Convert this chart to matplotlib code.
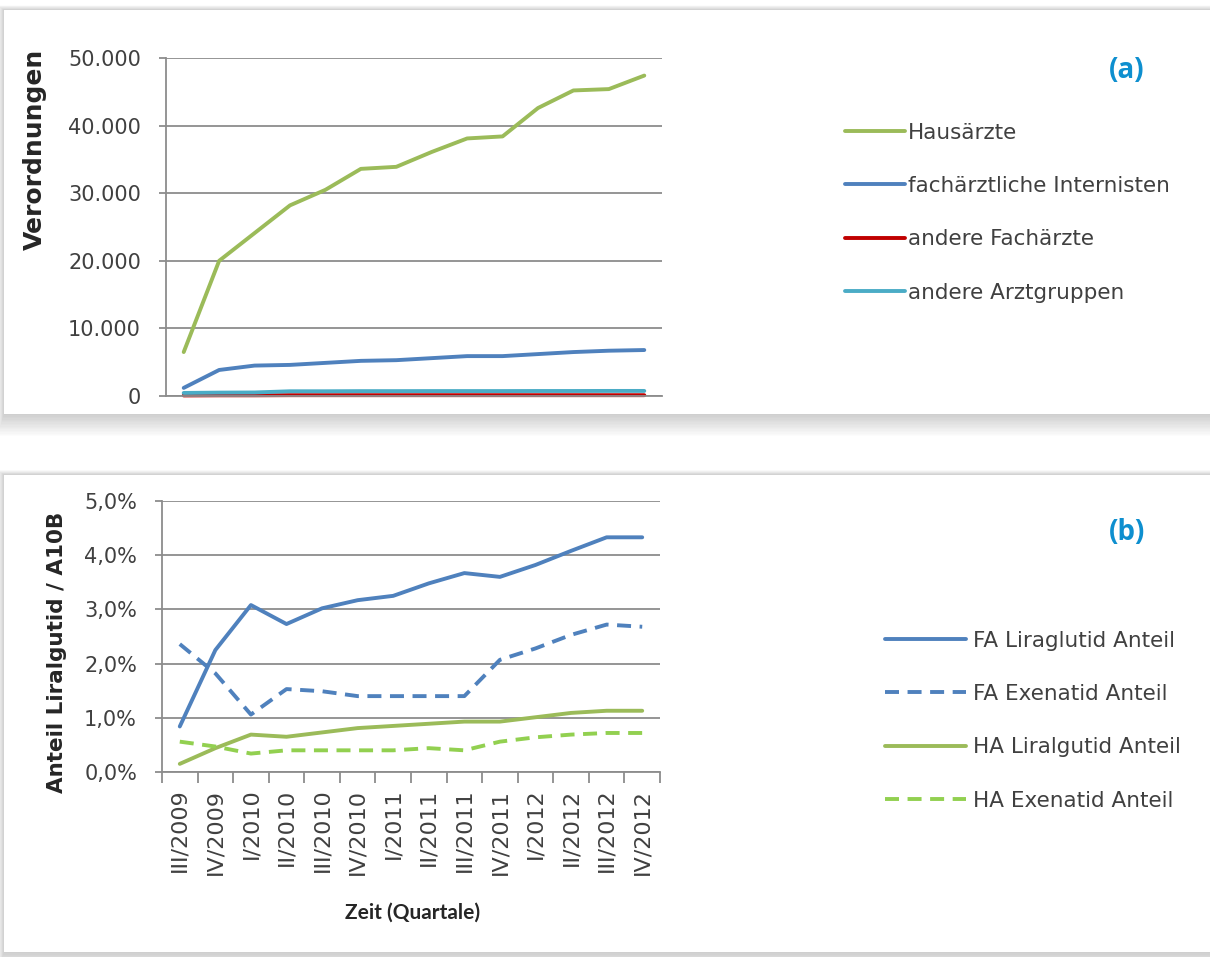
import matplotlib.pyplot as plt
import matplotlib.patches as patches
from matplotlib.ticker import FuncFormatter, FixedLocator
import numpy as np

# Data
quartale = ["III/2009", "IV/2009", "I/2010", "II/2010", "III/2010", "IV/2010",
            "I/2011", "II/2011", "III/2011", "IV/2011", "I/2012", "II/2012",
            "III/2012", "IV/2012"]

hausaerzte = [6500, 20000, 24100, 28200, 30500, 33600, 33900, 36100,
              38100, 38400, 42600, 45200, 45400, 47400]
internisten = [1200, 3850, 4500, 4600, 4900, 5200, 5300, 5600,
               5900, 5900, 6200, 6500, 6700, 6800]
andere_fachaerzte = [80, 100, 100, 120, 120, 120, 120, 120,
                     120, 120, 120, 120, 120, 120]
andere_arztgruppen = [450, 500, 520, 700, 700, 720, 720, 730,
                      730, 730, 740, 740, 750, 750]

fa_liraglutid = [0.84, 2.25, 3.08, 2.73, 3.02, 3.17, 3.25, 3.48,
                 3.67, 3.60, 3.82, 4.08, 4.33, 4.33]
fa_exenatid = [2.36, 1.82, 1.06, 1.53, 1.49, 1.40, 1.40, 1.40,
               1.40, 2.07, 2.28, 2.53, 2.72, 2.68]
ha_liraglutid = [0.15, 0.44, 0.69, 0.65, 0.73, 0.81, 0.85, 0.89,
                 0.93, 0.93, 1.01, 1.09, 1.13, 1.13]
ha_exenatid = [0.56, 0.47, 0.34, 0.40, 0.40, 0.40, 0.40, 0.44,
               0.40, 0.56, 0.64, 0.69, 0.72, 0.72]

W, H = 1210, 957
green = "#9BBB59"
blue = "#4F81BD"
red = "#C00000"
cyan = "#4BACC6"
lightgreen = "#92D050"
grid = "#8C8C8C"
txt = "#404040"
lw = 2.8

fig = plt.figure(figsize=(W / 100, H / 100), dpi=100)
fig.patch.set_facecolor("white")


def px_rect(x0, y0, x1, y1):
    return (x0 / W, 1 - y1 / H, (x1 - x0) / W, (y1 - y0) / H)


# cards with soft shadow
for (x0, y0, x1, y1) in [(4, 10, 1210, 414), (4, 475, 1210, 952)]:
    for i in range(16, 0, -1):
        r = px_rect(x0 - i * 0.4, y0 - i * 0.3, x1 + i * 0.4, y1 + i * 1.4)
        fig.patches.append(patches.Rectangle(r[:2], r[2], r[3], transform=fig.transFigure,
                                             facecolor="black", alpha=0.013, edgecolor="none", zorder=-2))
    r = px_rect(x0, y0, x1, y1)
    fig.patches.append(patches.Rectangle(r[:2], r[2], r[3], transform=fig.transFigure,
                                         facecolor="white", edgecolor="none", zorder=-1))

x = np.arange(len(quartale))


def style_axes(ax):
    ax.set_zorder(2)
    ax.patch.set_alpha(0)
    for s in ["top", "right"]:
        ax.spines[s].set_visible(False)
    for s in ["left", "bottom"]:
        ax.spines[s].set_color(grid)
        ax.spines[s].set_linewidth(1.3)
    ax.yaxis.grid(True, color=grid, linewidth=1.3)
    ax.set_axisbelow(True)
    ax.set_xlim(-0.5, len(quartale) - 0.5)
    ax.tick_params(axis="y", direction="out", length=5, width=1.3, color=grid,
                   labelsize=15, labelcolor=txt, pad=13)


legend_font = {"family": "DejaVu Sans", "size": 15.5}

# Panel (a)
ax1 = fig.add_axes(px_rect(166, 58, 662, 396))
style_axes(ax1)
ax1.plot(x, hausaerzte, color=green, lw=lw, label="Hausärzte", solid_capstyle="round", clip_on=False)
ax1.plot(x, internisten, color=blue, lw=lw, label="fachärztliche Internisten", solid_capstyle="round", clip_on=False)
ax1.plot(x, andere_fachaerzte, color=red, lw=lw, label="andere Fachärzte", solid_capstyle="round", clip_on=False)
ax1.plot(x, andere_arztgruppen, color=cyan, lw=lw, label="andere Arztgruppen", solid_capstyle="round", clip_on=False)
ax1.set_ylim(0, 50000)
ax1.set_yticks(np.arange(0, 50001, 10000))
ax1.yaxis.set_major_formatter(FuncFormatter(lambda v, p: f"{int(v):,}".replace(",", ".")))
ax1.set_xticks([])
ax1.tick_params(axis="x", length=0)
leg1 = ax1.legend(loc="upper left", bbox_to_anchor=((836 - 166) / 496, (396 - 114) / 338),
                  frameon=False, handlelength=2.8, handletextpad=0.15, labelspacing=1.55,
                  prop=legend_font, borderaxespad=0)
for t in leg1.get_texts():
    t.set_color(txt)
fig.text(35 / W, 1 - 149 / H, "Verordnungen", rotation=90, ha="center", va="center",
         fontsize=18, fontweight="bold", color="#262626", family="DejaVu Sans")
fig.text(1127 / W, 1 - 70 / H, "(a)", ha="center", va="center", fontsize=20,
         fontweight="bold", color="#0E8FCF", family="Open Sans")

# Panel (b)
ax2 = fig.add_axes(px_rect(162, 501, 660, 772))
style_axes(ax2)
ax2.plot(x, fa_liraglutid, color=blue, lw=lw, label="FA Liraglutid Anteil", solid_capstyle="round")
ax2.plot(x, fa_exenatid, color=blue, lw=lw, ls=(0, (3.6, 2.2)), label="FA Exenatid Anteil")
ax2.plot(x, ha_liraglutid, color=green, lw=lw, label="HA Liralgutid Anteil", solid_capstyle="round")
ax2.plot(x, ha_exenatid, color=lightgreen, lw=lw, ls=(0, (3.6, 2.2)), label="HA Exenatid Anteil")
ax2.set_ylim(0, 5)
ax2.set_yticks(np.arange(0, 5.01, 1))
ax2.yaxis.set_major_formatter(FuncFormatter(lambda v, p: f"{v:.1f}%".replace(".", ",")))
ax2.xaxis.set_major_locator(FixedLocator(np.arange(-0.5, len(quartale), 1.0)))
ax2.xaxis.set_minor_locator(FixedLocator(x))
ax2.set_xticklabels([""] * (len(quartale) + 1))
ax2.set_xticklabels(quartale, minor=True, rotation=90, fontsize=16, color=txt, family="DejaVu Sans")
ax2.tick_params(axis="x", which="major", direction="out", length=8, width=1.3, color=grid)
ax2.tick_params(axis="x", which="minor", length=0, pad=12)
fig.text(413 / W, 1 - 913 / H, "Zeit (Quartale)", ha="center", va="center", fontsize=15,
         fontweight="bold", color="#262626", family="Lato")
fig.text(57 / W, 1 - 652 / H, "Anteil Liralgutid / A10B", rotation=90, ha="center", va="center",
         fontsize=15.5, fontweight="bold", color="#262626", family="DejaVu Sans")
leg2 = ax2.legend(loc="upper left", bbox_to_anchor=((876 - 162) / 498, (772 - 622) / 271),
                  frameon=False, handlelength=3.8, handletextpad=0.3, labelspacing=1.55,
                  prop=legend_font, borderaxespad=0)
for t in leg2.get_texts():
    t.set_color(txt)
fig.text(1127 / W, 1 - 532 / H, "(b)", ha="center", va="center", fontsize=20,
         fontweight="bold", color="#0E8FCF", family="Open Sans")

fig.savefig("out.png", dpi=100)
